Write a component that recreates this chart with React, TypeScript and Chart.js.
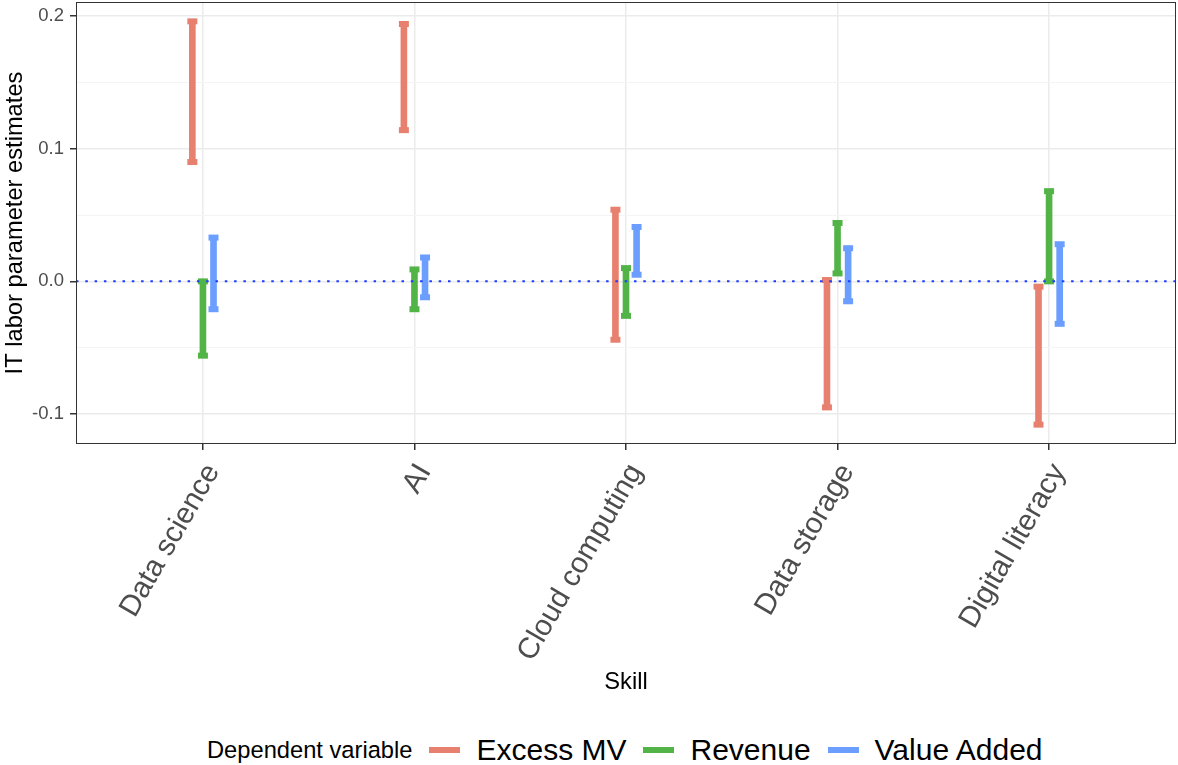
import React, { useEffect, useRef } from "react";
import { Chart, registerables } from "chart.js";

Chart.register(...registerables);

const categories = ["Data science", "AI", "Cloud computing", "Data storage", "Digital literacy"];
const seriesNames = ["Excess MV", "Revenue", "Value Added"];
const seriesColors = ["#E8806F", "#52B447", "#6B9EFF"];
const excessLow = [0.09, 0.114, -0.044, -0.095, -0.108];
const excessHigh = [0.196, 0.194, 0.054, 0.001, -0.004];
const revenueLow = [-0.056, -0.021, -0.026, 0.006, 0.0];
const revenueHigh = [0.0, 0.009, 0.01, 0.044, 0.068];
const valueLow = [-0.021, -0.012, 0.005, -0.015, -0.032];
const valueHigh = [0.033, 0.018, 0.041, 0.025, 0.028];
const dodge = [-0.05, 0, 0.05];
const yTicks = [-0.1, -0.05, 0, 0.05, 0.1, 0.15, 0.2];
const yMajor = [-0.1, 0, 0.1, 0.2];
const xMin = 0.4;
const xMax = 5.6;
const yMin = -0.1226;
const yMax = 0.2106;
const refLineY = 0;

const FONT = "'Liberation Sans', Arial, Helvetica, sans-serif";

const isMajor = (v: number) => yMajor.some((m) => Math.abs(m - v) < 1e-9);

const zeroPadding = (scale: any) => {
  scale.paddingLeft = 0;
  scale.paddingRight = 0;
  scale.paddingTop = 0;
  scale.paddingBottom = 0;
};

export default function App() {
  const ref = useRef<HTMLCanvasElement | null>(null);

  useEffect(() => {
    const canvas = ref.current;
    if (!canvas) return;
    const lows = [excessLow, revenueLow, valueLow];
    const highs = [excessHigh, revenueHigh, valueHigh];

    const barSets = seriesNames.map((name, s) => ({
      type: "bar" as const,
      label: name,
      data: categories.map((_, i) => ({ x: i + 1 + dodge[s], y: [lows[s][i], highs[s][i]] })),
      backgroundColor: seriesColors[s],
      borderWidth: 0,
      barThickness: 6,
      grouped: false,
      order: 3,
    }));
    const capSets = seriesNames.map((name, s) => ({
      type: "line" as const,
      label: name + " caps",
      data: categories.flatMap((_, i) => [
        { x: i + 1 + dodge[s], y: lows[s][i] },
        { x: i + 1 + dodge[s], y: highs[s][i] },
      ]),
      showLine: false,
      pointStyle: "line",
      pointRadius: 5,
      pointHoverRadius: 5,
      pointBorderWidth: 6,
      pointBorderColor: seriesColors[s],
      pointBackgroundColor: seriesColors[s],
      order: 2,
    }));
    const refLine = {
      type: "line" as const,
      label: "zero",
      data: [
        { x: xMin, y: refLineY },
        { x: xMax, y: refLineY },
      ],
      borderColor: "#1A3CFF",
      borderWidth: 2,
      borderDash: [2.5, 6.8],
      pointRadius: 0,
      order: 1,
    };

    const panelBorder = {
      id: "panelBorder",
      afterDraw(chart: any) {
        const { ctx, chartArea } = chart;
        ctx.save();
        ctx.strokeStyle = "#333333";
        ctx.lineWidth = 1;
        ctx.strokeRect(chartArea.left + 0.5, chartArea.top + 0.5, chartArea.right - chartArea.left - 1, chartArea.bottom - chartArea.top - 1);
        ctx.restore();
      },
    };

    const chart = new Chart(canvas, {
      type: "bar",
      data: { datasets: [...barSets, ...capSets, refLine] as any },
      plugins: [panelBorder],
      options: {
        animation: false,
        responsive: false,
        devicePixelRatio: 1,
        layout: { padding: { top: 2, right: 2, left: 0, bottom: 0 }, autoPadding: false },
        plugins: { legend: { display: false }, tooltip: { enabled: false } },
        scales: {
          x: {
            type: "linear",
            min: xMin,
            max: xMax,
            offset: false,
            afterBuildTicks: (scale: any) => {
              scale.ticks = categories.map((_, i) => ({ value: i + 1 }));
            },
            afterFit: (scale: any) => {
              scale.height = 256;
              zeroPadding(scale);
            },
            border: { display: false },
            grid: { offset: false, color: "#EBEBEB", lineWidth: 1.5, tickColor: "#333333", tickLength: 6, drawTicks: true },
            ticks: {
              autoSkip: false,
              minRotation: 60,
              maxRotation: 60,
              padding: 11,
              showLabelBackdrop: true,
              backdropColor: "rgba(0,0,0,0)",
              backdropPadding: 0,
              color: "#4D4D4D",
              font: { family: FONT, size: 29.5, lineHeight: 0.78 },
              callback: (v: any) => categories[Math.round(Number(v)) - 1] ?? "",
            },
            title: {
              display: true,
              text: "Skill",
              color: "#000000",
              font: { family: FONT, size: 23.7, lineHeight: 1.2 },
              padding: { top: 0, bottom: 3 },
            },
          },
          y: {
            type: "linear",
            min: yMin,
            max: yMax,
            afterBuildTicks: (scale: any) => {
              scale.ticks = yTicks.map((v) => ({ value: v }));
            },
            afterFit: (scale: any) => {
              scale.width = 76;
              zeroPadding(scale);
            },
            border: { display: false },
            grid: {
              color: (c: any) => (isMajor(c.tick?.value) ? "#EBEBEB" : "#F4F4F4"),
              lineWidth: (c: any) => (isMajor(c.tick?.value) ? 1.5 : 1),
              tickColor: (c: any) => (isMajor(c.tick?.value) ? "#333333" : "rgba(0,0,0,0)"),
              tickLength: 6,
            },
            ticks: {
              padding: 6,
              color: "#4D4D4D",
              font: { family: FONT, size: 18.5 },
              callback: (v: any) => (isMajor(Number(v)) ? Number(v).toFixed(1) : ""),
            },
            title: {
              display: true,
              text: "IT labor parameter estimates",
              color: "#000000",
              font: { family: FONT, size: 23.7, lineHeight: 1.2 },
              padding: { top: 1, bottom: 0 },
            },
          },
        },
      } as any,
    });
    return () => chart.destroy();
  }, []);

  const legendItem = (name: string, color: string) => (
    <div key={name} style={{ display: "flex", alignItems: "center" }}>
      <div style={{ width: 31, height: 6, background: color, marginRight: 16 }} />
      <span style={{ fontSize: 30, marginRight: 17, color: "#000" }}>{name}</span>
    </div>
  );

  return (
    <div style={{ position: "absolute", left: 0, top: 0, width: 1178, height: 765, background: "#fff", fontFamily: FONT }}>
      <canvas ref={ref} width={1178} height={700} style={{ display: "block" }} />
      <div
        style={{
          position: "absolute",
          left: 207,
          top: 730,
          height: 40,
          display: "flex",
          alignItems: "center",
          whiteSpace: "nowrap",
        }}
      >
        <span style={{ fontSize: 23.7, marginRight: 17, color: "#000" }}>Dependent variable</span>
        {seriesNames.map((n, i) => legendItem(n, seriesColors[i]))}
      </div>
    </div>
  );
}
